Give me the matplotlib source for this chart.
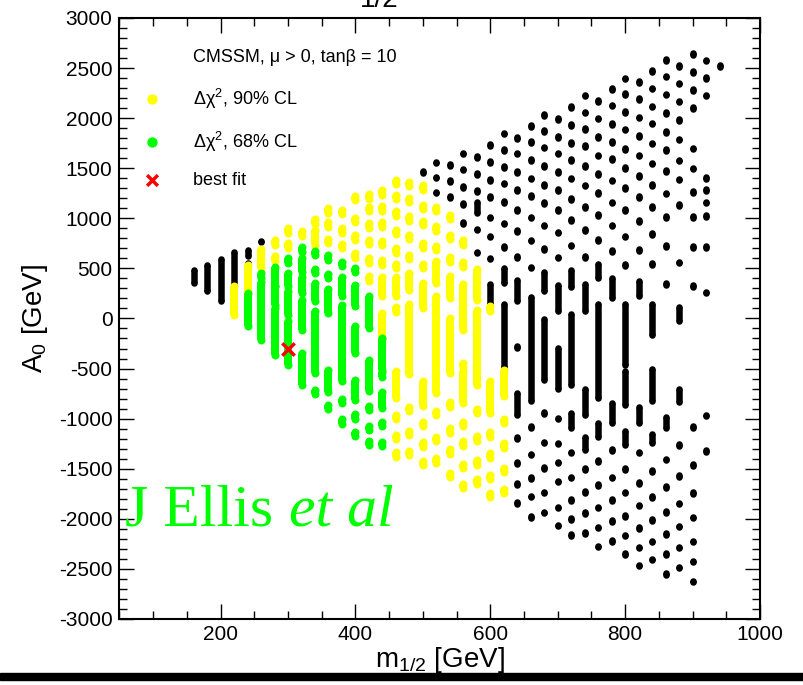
import matplotlib
matplotlib.use('Agg')
import matplotlib.pyplot as plt
from matplotlib.ticker import MultipleLocator
from matplotlib.patches import Rectangle

# scan points: m_1/2 column -> A0 blobs (single value = dot, (top, bottom) = stretched blob)
black_pts = {
    160: [(480, 360)],
    180: [(530, 280)],
    200: [(590, 180)],
    220: [(655, 320)],
    240: [(677, 627), 547],
    260: [770],
    500: [1460],
    520: [1557, 1407, 1257],
    540: [1530, 1370, 1213],
    560: [1647, 1488, 1313, 1140, 953],
    580: [1613, 1442, 1275, (1150, 1060), 890, 660],
    600: [1730, 1563, 1383, 1213, 1007, 820, 600, (334, 151)],
    620: [1847, 1680, 1513, 1347, 1163, 947, 714, (491, 361), (134, -472)],
    640: [1803, 1647, 1463, 1283, 1080, 874, 614, (377, 184), -285, (-748, -955), -1191, -1443, -1653, -1843],
    660: [1920, 1763, 1580, 1397, 1220, 1007, 780, 507, (211, -821), -1084, -1360, -1590, -1777, -1983],
    680: [2030, 1870, 1708, 1522, 1332, 1150, 927, 694, (457, 284), (-9, -605), -941, -1240, -1493, -1736, -1936],
    700: [1990, 1813, 1647, 1463, 1280, 1080, 860, 610, (330, 80), (-300, -700), -1000, -1250, -1437, -1626, -1886, -2066],
    720: [2110, 1934, 1754, 1580, 1398, 1192, 982, 729, (476, 319), (36, -656), (-950, -1090), -1337, -1587, -1810, -2005, -2160],
    740: [2224, 2057, 1890, 1724, 1521, 1328, 1115, 882, 615, (336, 86), (-710, -957), (-1190, -1305), -1505, -1735, -1945, -2140],
    760: [2170, 1997, 1814, 1627, 1441, 1252, 1032, 782, (535, 412), (136, -783), (-1050, -1173), -1422, -1660, -1888, -2085, -2278],
    780: [2290, 2124, 1940, 1764, 1590, 1378, 1158, 929, 672, (392, 212), (-849, -1039), -1313, -1588, -1815, -2025, -2220],
    800: [2397, 2240, 2064, 1888, 1691, 1501, 1301, 1085, 819, 536, (136, -456), (-533, -856), (-1133, -1256), -1502, -1738, -1975, -2168, -2354],
    820: [2360, 2193, 2007, 1824, 1627, 1421, 1212, 975, 682, (369, 229), (-893, -1039), -1340, -1640, -1868, -2091, -2288, -2468],
    840: [2470, 2294, 2117, 1947, 1748, 1545, 1335, 1115, 845, 542, (136, -157), (-510, -816), (-1165, -1240), -1523, -1785, -2015, -2225, -2408],
    860: [2580, 2417, 2237, 2054, 1864, 1681, 1471, 1248, 1012, 722, 342, (-989, -1082), -1408, -1685, -1935, -2151, -2351, -2551],
    880: [2523, 2347, 2164, 1981, 1788, 1578, 1388, 1132, 559, (103, -17), (-710, -822), -1265, -1573, -1848, -2078, -2285, -2485],
    900: [2643, 2463, 2280, 2100, 1698, 1498, 1261, 1015, 712, 323, -1085, -1462, -1745, -1988, -2225, -2425, -2625],
    920: [2577, 2400, 2224, 1405, 1281, 1158, 1022, 715, 259, -969, -1325],
    940: [2523],
}

cl90_pts = {
    220: [(300, 60)],
    240: [(510, 270)],
    260: [(667, 530)],
    280: [760, 597],
    300: [877, 730],
    320: [847],
    340: [967, (857, 760)],
    360: [1077, 940, 773],
    380: [1060, 877, 723],
    400: [1200, 980, 807, 630],
    420: [1217, 1090, 930, 763, 580, 400],
    440: [1257, 1097, 940, 754, 557, (391, 245), (30, -188)],
    460: [1363, 1210, 1047, 864, 680, 524, (391, 245), 91, (-543, -773), -986, -1186, -1360],
    480: [1340, 1180, 997, 813, 614, (430, 311), (124, -528), -905, -1145, -1343],
    500: [1307, 1113, 953, 727, 524, (334, 128), (-648, -855), -1051, -1258, -1443],
    520: [1090, 897, 704, (551, 377), (201, -722), -941, -1201, -1420],
    540: [1013, 813, 590, (401, 227), (-16, -521), -858, -1118, -1330, -1560],
    560: [757, 540, (317, -89), -462, (-548, -821), -1051, -1250, -1470, -1670],
    580: [(467, 211), (67, -638), -925, -1200, -1437, -1627],
    600: [98, (-648, -921), -1158, -1370, -1583, -1763],
    620: [(-532, -755), -1025, -1270, -1510, -1723],
}

cl68_pts = {
    240: [(230, -56)],
    260: [430, (341, -189)],
    280: [(490, 344), (301, 161), (84, -340)],
    300: [580, (434, 344), (257, 61), (-49, -440)],
    320: [690, (577, 484), (390, 277), (167, -90), (-365, -640)],
    340: [654, 474, (334, 194), (51, -522), -737],
    360: [607, 424, (277, 77), (-533, -717), -886],
    380: [544, (390, 244), (117, -605), -825, -1027],
    400: [484, (310, 150), (-100, -322), (-632, -790), -977, -1155],
    420: [(207, -73), (-432, -705), -893, -1093, -1245],
    440: [(-216, -490), -560, (-755, -872), -1052, -1255],
}

best_fit = (300, -300)

plt.rcParams['font.family'] = ['Liberation Sans', 'DejaVu Sans']
plt.rcParams['mathtext.fontset'] = 'custom'
plt.rcParams['mathtext.rm'] = 'Liberation Sans'
plt.rcParams['mathtext.it'] = 'Liberation Sans:italic'
plt.rcParams['mathtext.default'] = 'regular'
plt.rcParams['axes.unicode_minus'] = False

fig = plt.figure(figsize=(8.04, 6.85), dpi=100)
ax = fig.add_axes([0.1486, 0.0964, 0.7967, 0.8774])


def draw_blobs(pts, color, width_px, stretch, z):
    # stretch: extra half-height (GeV) so single points look like the oval markers
    lw = width_px * 72 / 100
    xs, tops, bots = [], [], []
    for m, items in pts.items():
        for it in items:
            if isinstance(it, tuple):
                top, bot = it
            else:
                top = bot = it
            xs.append(m)
            tops.append(top + stretch)
            bots.append(bot - stretch)
    ax.vlines(xs, bots, tops, colors=color, linewidth=lw, capstyle='butt', zorder=z)
    ax.scatter(xs + xs, tops + bots, s=lw ** 2, color=color, linewidths=0, zorder=z)


draw_blobs(black_pts, 'black', 6.5, 8, 2)
draw_blobs(cl90_pts, '#ffff00', 8, 22, 3)
draw_blobs(cl68_pts, '#00ff00', 8, 22, 4)
ax.scatter([best_fit[0]], [best_fit[1]], marker='x', s=80, color='#ff0000', linewidths=2.5, zorder=5)

ax.set_xlim(50, 1000)
ax.set_ylim(-3000, 3000)
ax.xaxis.set_major_locator(MultipleLocator(200))
ax.xaxis.set_minor_locator(MultipleLocator(50))
ax.yaxis.set_major_locator(MultipleLocator(500))
ax.yaxis.set_minor_locator(MultipleLocator(100))
ax.tick_params(which='both', direction='in', top=True, right=True, width=1.0, labelsize=15)
ax.tick_params(which='major', length=11)
ax.tick_params(which='minor', length=5.5)
ax.tick_params(axis='x', pad=4)
ax.tick_params(axis='y', pad=5)
for sp in ax.spines.values():
    sp.set_linewidth(1.5)

ax.set_xlabel('m$_{1/2}$ [GeV]', fontsize=20, labelpad=1)
ax.set_ylabel('A$_0$ [GeV]', fontsize=20, labelpad=6)

# legend
ax.text(0.115, 0.935, 'CMSSM, μ > 0, tanβ = 10', transform=ax.transAxes, fontsize=13, va='center')
ax.scatter([0.051], [0.865], s=55, color='#ffff00', linewidths=0, transform=ax.transAxes, zorder=6)
ax.text(0.115, 0.865, 'Δχ$^{2}$, 90% CL', transform=ax.transAxes, fontsize=13, va='center')
ax.scatter([0.051], [0.794], s=55, color='#00ff00', linewidths=0, transform=ax.transAxes, zorder=6)
ax.text(0.115, 0.794, 'Δχ$^{2}$, 68% CL', transform=ax.transAxes, fontsize=13, va='center')
ax.scatter([0.051], [0.730], marker='x', s=60, color='#ff0000', linewidths=2.5, transform=ax.transAxes, zorder=6)
ax.text(0.115, 0.730, 'best fit', transform=ax.transAxes, fontsize=13, va='center')

ax.text(0.009, 0.156, 'J Ellis', transform=ax.transAxes, fontsize=43, color='#00ff00',
        family='Liberation Serif', va='baseline')
ax.text(0.265, 0.156, 'et al', transform=ax.transAxes, fontsize=43, color='#00ff00',
        family='Liberation Serif', style='italic', va='baseline')

# clipped title remnant at the top
fig.text(0.472, 1.0, '1/2', fontsize=20, ha='center', va='center')

fig.add_artist(Rectangle((0, 5 / 685), 1, 7 / 685, transform=fig.transFigure, color='black'))

fig.savefig('out.png', dpi=100)
